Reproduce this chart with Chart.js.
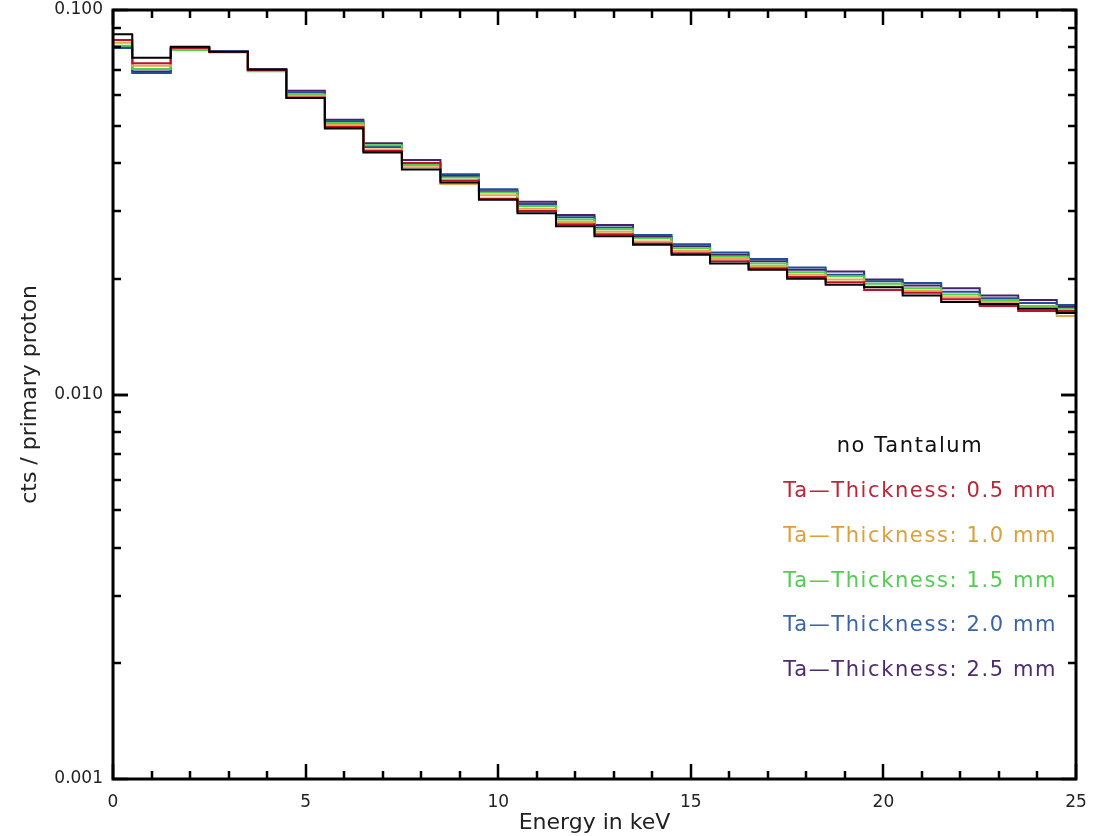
<!DOCTYPE html>
<html>
<head>
<meta charset="utf-8">
<script src="https://cdn.jsdelivr.net/npm/chart.js@4.4.1/dist/chart.umd.min.js"></script>
<style>
  html, body { margin: 0; padding: 0; background: #fff; }
  #wrap { width: 1097px; height: 836px; }
</style>
</head>
<body>
<div id="wrap"><canvas id="chart" width="1097" height="836"></canvas></div>
<script>
// energy bin centres (keV)
const energy = [0, 1, 2, 3, 4, 5, 6, 7, 8, 9, 10, 11, 12, 13, 14, 15, 16, 17, 18, 19, 20, 21, 22, 23, 24, 25];

// cts / primary proton per bin
const noTantalum = [0.0865, 0.0751, 0.0803, 0.0779, 0.0700, 0.0590, 0.0492, 0.0426, 0.0385, 0.0356, 0.0321, 0.0296, 0.0274, 0.0258, 0.0245, 0.0231, 0.0219, 0.0211, 0.0200, 0.0193, 0.0190, 0.0181, 0.0174, 0.0172, 0.0167, 0.0163];
const ta05 = [0.0835, 0.0727, 0.0797, 0.0778, 0.0698, 0.0592, 0.0496, 0.0430, 0.0400, 0.0360, 0.0323, 0.0300, 0.0277, 0.0261, 0.0247, 0.0233, 0.0222, 0.0213, 0.0202, 0.0196, 0.0187, 0.0184, 0.0177, 0.0170, 0.0165, 0.0165];
const ta10 = [0.0822, 0.0716, 0.0795, 0.0777, 0.0697, 0.0598, 0.0502, 0.0434, 0.0390, 0.0353, 0.0330, 0.0304, 0.0281, 0.0265, 0.0250, 0.0236, 0.0225, 0.0216, 0.0205, 0.0199, 0.0191, 0.0186, 0.0179, 0.0174, 0.0168, 0.0160];
const ta15 = [0.0807, 0.0702, 0.0787, 0.0776, 0.0693, 0.0603, 0.0508, 0.0445, 0.0395, 0.0367, 0.0335, 0.0309, 0.0285, 0.0269, 0.0255, 0.0240, 0.0228, 0.0219, 0.0208, 0.0203, 0.0194, 0.0189, 0.0182, 0.0176, 0.0170, 0.0167];
const ta20 = [0.0797, 0.0686, 0.0792, 0.0781, 0.0699, 0.0610, 0.0514, 0.0440, 0.0398, 0.0374, 0.0342, 0.0313, 0.0289, 0.0272, 0.0260, 0.0246, 0.0234, 0.0225, 0.0214, 0.0205, 0.0197, 0.0195, 0.0185, 0.0178, 0.0173, 0.0171];
const ta25 = [0.0800, 0.0692, 0.0798, 0.0780, 0.0701, 0.0617, 0.0518, 0.0450, 0.0407, 0.0370, 0.0338, 0.0317, 0.0293, 0.0276, 0.0257, 0.0243, 0.0231, 0.0222, 0.0211, 0.0209, 0.0199, 0.0192, 0.0189, 0.0181, 0.0176, 0.0169];

const seriesLabels = ['no Tantalum', 'Ta\u2014Thickness: 0.5 mm', 'Ta\u2014Thickness: 1.0 mm', 'Ta\u2014Thickness: 1.5 mm', 'Ta\u2014Thickness: 2.0 mm', 'Ta\u2014Thickness: 2.5 mm'];
const seriesValues = [noTantalum, ta05, ta10, ta15, ta20, ta25];
const seriesColors = ['#000000', '#c0102a', '#eaa648', '#4cd24c', '#1f4f98', '#4a1f68'];
const textColors = ['#111111', '#b8283a', '#d9a03c', '#52cc52', '#3a64a4', '#4e2a6e'];

const xTicks = [0, 5, 10, 15, 20, 25];
const yTicks = [0.001, 0.01, 0.1];
const yTickLabels = ['0.001', '0.010', '0.100'];

const FONT = '"DejaVu Sans", sans-serif';

// inward IDL-style ticks and frame
const frameTicks = {
    id: 'frameTicks',
    afterDatasetsDraw(chart) {
        const { ctx, chartArea: a, scales: { x, y } } = chart;
        ctx.save();
        ctx.strokeStyle = '#000';
        ctx.lineWidth = 2.5;
        // x ticks (top and bottom)
        for (let e = 0; e <= 25; e++) {
            const px = Math.round(x.getPixelForValue(e));
            const len = e % 5 === 0 ? 15 : 8;
            ctx.beginPath();
            ctx.moveTo(px, a.bottom); ctx.lineTo(px, a.bottom - len);
            ctx.moveTo(px, a.top); ctx.lineTo(px, a.top + len);
            ctx.stroke();
        }
        // y ticks (left and right)
        for (const d of [0.001, 0.01]) {
            for (let m = 1; m <= 10; m++) {
                const py = Math.round(y.getPixelForValue(d * m));
                const len = (m === 1 || m === 10) ? 15 : 8;
                ctx.beginPath();
                ctx.moveTo(a.left, py); ctx.lineTo(a.left + len, py);
                ctx.moveTo(a.right, py); ctx.lineTo(a.right - len, py);
                ctx.stroke();
            }
        }
        ctx.lineWidth = 3;
        ctx.strokeRect(a.left, a.top, a.right - a.left, a.bottom - a.top);
        ctx.restore();
    }
};

// text legend, lower right
const textLegend = {
    id: 'textLegend',
    afterDraw(chart) {
        const { ctx } = chart;
        ctx.save();
        ctx.font = '21px ' + FONT;
        ctx.letterSpacing = '1.6px';
        ctx.textBaseline = 'middle';
        const rowY = [447, 492, 537, 582, 626, 671];
        seriesLabels.forEach((lab, i) => {
            ctx.fillStyle = textColors[i];
            if (i === 0) {
                ctx.textAlign = 'center';
                ctx.fillText(lab, 910, rowY[i]);
            } else {
                ctx.textAlign = 'right';
                ctx.fillText(lab, 1057, rowY[i]);
            }
        });
        ctx.restore();
    }
};

new Chart(document.getElementById('chart'), {
    type: 'line',
    data: {
        datasets: seriesValues.map((vals, i) => ({
            label: seriesLabels[i],
            data: energy.map((e, k) => ({ x: e, y: vals[k] })),
            borderColor: seriesColors[i],
            borderWidth: 2,
            stepped: 'middle',
            pointRadius: 0,
            fill: false
        }))
    },
    options: {
        responsive: false,
        animation: false,
        layout: { padding: { top: 10, right: 21, left: 0, bottom: 0 } },
        plugins: {
            legend: { display: false },
            tooltip: { enabled: false }
        },
        scales: {
            x: {
                type: 'linear',
                min: 0,
                max: 25,
                afterBuildTicks: (scale) => { scale.ticks = xTicks.map(v => ({ value: v })); },
                afterFit: (scale) => {
                    scale.height = 57;
                    scale.paddingLeft = 0;
                    scale.paddingRight = 0;
                },
                grid: { display: false, drawTicks: false },
                border: { display: false },
                ticks: {
                    padding: 13,
                    maxRotation: 0,
                    color: '#222',
                    font: { family: FONT, size: 17 },
                    callback: (v) => String(v)
                },
                title: {
                    display: true,
                    text: 'Energy in keV',
                    color: '#222',
                    font: { family: FONT, size: 22 },
                    padding: { top: 0, bottom: 0 }
                }
            },
            y: {
                type: 'logarithmic',
                min: 0.001,
                max: 0.1,
                afterBuildTicks: (scale) => { scale.ticks = yTicks.map(v => ({ value: v })); },
                afterFit: (scale) => {
                    scale.width = 113;
                    scale.paddingTop = 0;
                    scale.paddingBottom = 0;
                },
                grid: { display: false, drawTicks: false },
                border: { display: false },
                ticks: {
                    padding: 10,
                    color: '#222',
                    font: { family: FONT, size: 17 },
                    callback: (v) => yTickLabels[yTicks.indexOf(v)] ?? ''
                },
                title: {
                    display: true,
                    text: 'cts / primary proton',
                    color: '#222',
                    font: { family: FONT, size: 22 },
                    padding: { top: 17, bottom: 0 }
                }
            }
        }
    },
    plugins: [frameTicks, textLegend]
});
</script>
</body>
</html>
